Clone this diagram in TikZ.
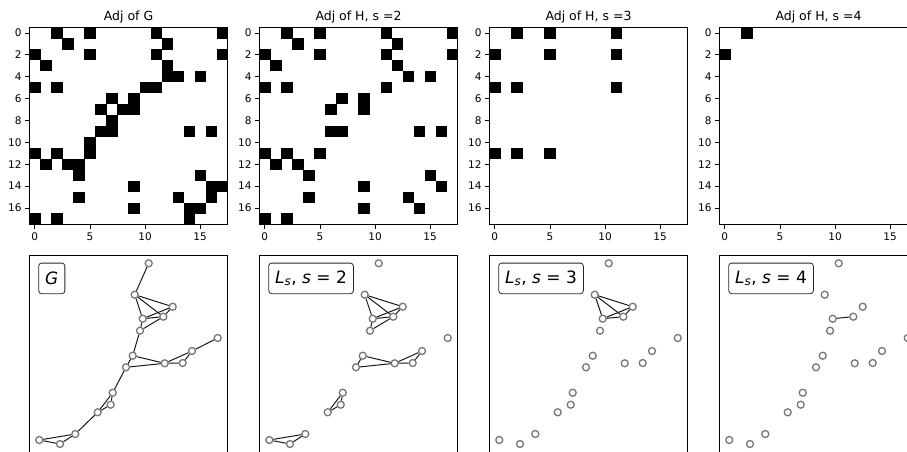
\documentclass[tikz,border=0pt]{standalone}
\usepackage{fontspec}
\setmainfont{DejaVu Sans}
\usepackage{xcolor}
\usepackage{tikz}
\definecolor{INK}{HTML}{000000}
\definecolor{RIM}{HTML}{777777}

\begin{document}
\begin{tikzpicture}[
    x=1pt, y=-1pt,
    frame/.style={draw=INK, line width=0.9pt},
    cell/.style={fill=INK},
    vert/.style={circle, draw=RIM, fill=white, line width=1.3pt, inner sep=0pt, minimum size=7pt},
    edge/.style={draw=INK!90, line width=1pt},
    tick/.style={font=\fontsize{10.5}{12}\selectfont, text=INK},
    ttl/.style={font=\fontsize{12.5}{14}\selectfont, text=INK, anchor=base},
    tag/.style={draw=INK!85, rounded corners=3pt, line width=0.8pt, anchor=north west,
      font=\fontsize{17}{19}\selectfont, minimum height=30.6pt, inner xsep=6.5pt},
  ]
  \useasboundingbox (0,0) rectangle (907,452);
  \clip (0,0) rectangle (907,452);

  % frames, ticks and titles
  \foreach \p/\name in {0/{Adj of G},1/{Adj of H, s =2},2/{Adj of H, s =3},3/{Adj of H, s =4}} {
    \begin{scope}[xshift={\p*230pt}]
      \node[ttl] (title\p) at (128.5,20.5) {\name};
      \draw[frame] (29.3,27.5) rectangle (227.6,224.5);
      \foreach \r in {0,2,...,16}
        \draw[INK, line width=0.8pt] (29.3,{33+10.94*\r}) -- ++(-4,0)
          node[tick, anchor=east, inner sep=3.4pt] (yt\p-\r) {\r};
      \foreach \c in {0,5,10,15}
        \draw[INK, line width=0.8pt] ({34.8+11.02*\c},224.5) -- ++(0,4)
          node[tick, anchor=north, inner sep=4pt] (xt\p-\c) {\c};
      \draw[frame] (29.3,255) rectangle (227.6,480);
    \end{scope}
  }

  % vertices, same layout in every panel
  \foreach \p in {0,1,2,3}
    \foreach \n/\x/\y in {0/142.7/318.7, 1/39.3/440, 2/163.3/316.7, 3/60/444,
        4/97.7/412.3, 5/134.7/294.7, 6/182.7/363, 7/192/351, 8/217.7/338,
        9/164.7/363.3, 10/148.7/263.3, 11/172.7/306.7, 12/75.3/434,
        13/110.7/404.7, 14/132.7/355.7, 15/112.7/392.7, 16/126/367.3, 17/140/330.7}
      \node[vert] (v\p-\n) at ({\x+230*\p},\y) {};

  % panel tags
  \node[tag] (tag0) at (38.3,262.7) {\textit{G}};
  \node[tag] (tag1) at (268.3,262.7) {\textit{L}\textsubscript{\textit{s}}, \textit{s} = 2};
  \node[tag] (tag2) at (498.3,262.7) {\textit{L}\textsubscript{\textit{s}}, \textit{s} = 3};
  \node[tag] (tag3) at (728.3,262.7) {\textit{L}\textsubscript{\textit{s}}, \textit{s} = 4};

  % G
  \foreach \i/\j in {0/2,0/5,0/11,0/17,1/3,1/12,2/5,2/11,2/17,3/12,4/12,4/13,4/15,
      5/10,5/11,6/7,6/9,7/8,7/9,9/14,9/16,13/15,14/16,14/17,15/16} {
    \fill[cell] ({29.3+11.02*\j},{27.5+10.94*\i}) rectangle ++(11.2,11.1);
    \fill[cell] ({29.3+11.02*\i},{27.5+10.94*\j}) rectangle ++(11.2,11.1);
    \draw[edge] (v0-\i) -- (v0-\j);
  }

  % H, s=2
  \begin{scope}[xshift=230pt]
    \foreach \i/\j in {0/2,0/5,0/11,0/17,1/3,1/12,2/5,2/11,2/17,3/12,4/13,4/15,
        5/11,6/7,6/9,7/9,9/14,9/16,13/15,14/16} {
      \fill[cell] ({29.3+11.02*\j},{27.5+10.94*\i}) rectangle ++(11.2,11.1);
      \fill[cell] ({29.3+11.02*\i},{27.5+10.94*\j}) rectangle ++(11.2,11.1);
      \draw[edge] (v1-\i) -- (v1-\j);
    }
  \end{scope}

  % H, s=3
  \begin{scope}[xshift=460pt]
    \foreach \i/\j in {0/2,0/5,0/11,2/5,2/11,5/11} {
      \fill[cell] ({29.3+11.02*\j},{27.5+10.94*\i}) rectangle ++(11.2,11.1);
      \fill[cell] ({29.3+11.02*\i},{27.5+10.94*\j}) rectangle ++(11.2,11.1);
      \draw[edge] (v2-\i) -- (v2-\j);
    }
  \end{scope}

  % H, s=4
  \begin{scope}[xshift=690pt]
    \foreach \i/\j in {0/2} {
      \fill[cell] ({29.3+11.02*\j},{27.5+10.94*\i}) rectangle ++(11.2,11.1);
      \fill[cell] ({29.3+11.02*\i},{27.5+10.94*\j}) rectangle ++(11.2,11.1);
      \draw[edge] (v3-\i) -- (v3-\j);
    }
  \end{scope}

\end{tikzpicture}
\end{document}
